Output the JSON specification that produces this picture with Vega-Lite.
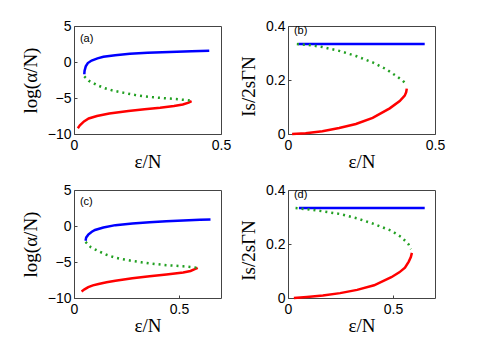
{
  "$schema": "https://vega.github.io/schema/vega-lite/v6.json",
  "padding": {"left": 20, "top": 18, "right": 0, "bottom": 0},
  "background": "white",
  "config": {
    "view": {"stroke": "#444", "strokeWidth": 1},
    "axis": {"grid": false, "domain": false, "ticks": true, "tickSize": -3, "tickColor": "#444",
      "labelFont": "Liberation Sans", "labelFontSize": 14, "labelColor": "#000", "labelOverlap": false, "labelBound": false, "labelFlush": false,
      "titleFont": "Liberation Serif", "titleFontSize": 19, "titleFontWeight": "normal", "titleColor": "#000", "format": "~f"},
    "axisX": {"labelPadding": 7},
    "axisY": {"labelPadding": 6},
    "text": {"font": "Liberation Sans", "fontSize": 11, "color": "#000"}
  },
  "datasets": {
    "curves": [
      {"p":"a","s":"blue","i":0,"x":0.035,"y":-1.7},{"p":"a","s":"blue","i":1,"x":0.036,"y":-1.2},{"p":"a","s":"blue","i":2,"x":0.040,"y":-0.6},{"p":"a","s":"blue","i":3,"x":0.047,"y":-0.15},{"p":"a","s":"blue","i":4,"x":0.06,"y":0.2},{"p":"a","s":"blue","i":5,"x":0.08,"y":0.5},{"p":"a","s":"blue","i":6,"x":0.10,"y":0.72},{"p":"a","s":"blue","i":7,"x":0.14,"y":0.95},{"p":"a","s":"blue","i":8,"x":0.19,"y":1.13},{"p":"a","s":"blue","i":9,"x":0.25,"y":1.27},{"p":"a","s":"blue","i":10,"x":0.30,"y":1.36},{"p":"a","s":"blue","i":11,"x":0.35,"y":1.43},{"p":"a","s":"blue","i":12,"x":0.40,"y":1.49},{"p":"a","s":"blue","i":13,"x":0.46,"y":1.55},
      {"p":"a","s":"green","i":0,"x":0.035,"y":-2.0},{"p":"a","s":"green","i":1,"x":0.05,"y":-2.6},{"p":"a","s":"green","i":2,"x":0.078,"y":-3.2},{"p":"a","s":"green","i":3,"x":0.105,"y":-3.65},{"p":"a","s":"green","i":4,"x":0.131,"y":-3.95},{"p":"a","s":"green","i":5,"x":0.16,"y":-4.2},{"p":"a","s":"green","i":6,"x":0.185,"y":-4.4},{"p":"a","s":"green","i":7,"x":0.21,"y":-4.6},{"p":"a","s":"green","i":8,"x":0.239,"y":-4.77},{"p":"a","s":"green","i":9,"x":0.27,"y":-4.9},{"p":"a","s":"green","i":10,"x":0.30,"y":-5.0},{"p":"a","s":"green","i":11,"x":0.347,"y":-5.15},{"p":"a","s":"green","i":12,"x":0.385,"y":-5.3},{"p":"a","s":"green","i":13,"x":0.40,"y":-5.4},
      {"p":"a","s":"red","i":0,"x":0.013,"y":-9.2},{"p":"a","s":"red","i":1,"x":0.02,"y":-8.8},{"p":"a","s":"red","i":2,"x":0.034,"y":-8.25},{"p":"a","s":"red","i":3,"x":0.05,"y":-7.85},{"p":"a","s":"red","i":4,"x":0.078,"y":-7.5},{"p":"a","s":"red","i":5,"x":0.12,"y":-7.15},{"p":"a","s":"red","i":6,"x":0.185,"y":-6.8},{"p":"a","s":"red","i":7,"x":0.24,"y":-6.55},{"p":"a","s":"red","i":8,"x":0.293,"y":-6.35},{"p":"a","s":"red","i":9,"x":0.34,"y":-6.1},{"p":"a","s":"red","i":10,"x":0.37,"y":-5.9},{"p":"a","s":"red","i":11,"x":0.39,"y":-5.65},{"p":"a","s":"red","i":12,"x":0.40,"y":-5.45},
      {"p":"b","s":"blue","i":0,"x":0.035,"y":0.333},{"p":"b","s":"blue","i":1,"x":0.25,"y":0.333},{"p":"b","s":"blue","i":2,"x":0.465,"y":0.333},
      {"p":"b","s":"green","i":0,"x":0.03,"y":0.333},{"p":"b","s":"green","i":1,"x":0.07,"y":0.33},{"p":"b","s":"green","i":2,"x":0.117,"y":0.322},{"p":"b","s":"green","i":3,"x":0.174,"y":0.308},{"p":"b","s":"green","i":4,"x":0.231,"y":0.289},{"p":"b","s":"green","i":5,"x":0.288,"y":0.265},{"p":"b","s":"green","i":6,"x":0.334,"y":0.24},{"p":"b","s":"green","i":7,"x":0.368,"y":0.215},{"p":"b","s":"green","i":8,"x":0.391,"y":0.197},{"p":"b","s":"green","i":9,"x":0.403,"y":0.183},
      {"p":"b","s":"red","i":0,"x":0.014,"y":0.0},{"p":"b","s":"red","i":1,"x":0.06,"y":0.003},{"p":"b","s":"red","i":2,"x":0.117,"y":0.01},{"p":"b","s":"red","i":3,"x":0.174,"y":0.022},{"p":"b","s":"red","i":4,"x":0.231,"y":0.037},{"p":"b","s":"red","i":5,"x":0.288,"y":0.06},{"p":"b","s":"red","i":6,"x":0.346,"y":0.095},{"p":"b","s":"red","i":7,"x":0.38,"y":0.122},{"p":"b","s":"red","i":8,"x":0.397,"y":0.142},{"p":"b","s":"red","i":9,"x":0.402,"y":0.155},{"p":"b","s":"red","i":10,"x":0.404,"y":0.168},
      {"p":"c","s":"blue","i":0,"x":0.055,"y":-2.05},{"p":"c","s":"blue","i":1,"x":0.058,"y":-1.6},{"p":"c","s":"blue","i":2,"x":0.068,"y":-1.2},{"p":"c","s":"blue","i":3,"x":0.085,"y":-0.8},{"p":"c","s":"blue","i":4,"x":0.10,"y":-0.55},{"p":"c","s":"blue","i":5,"x":0.14,"y":-0.2},{"p":"c","s":"blue","i":6,"x":0.197,"y":0.12},{"p":"c","s":"blue","i":7,"x":0.278,"y":0.36},{"p":"c","s":"blue","i":8,"x":0.36,"y":0.53},{"p":"c","s":"blue","i":9,"x":0.44,"y":0.67},{"p":"c","s":"blue","i":10,"x":0.52,"y":0.77},{"p":"c","s":"blue","i":11,"x":0.60,"y":0.86},{"p":"c","s":"blue","i":12,"x":0.65,"y":0.9},
      {"p":"c","s":"green","i":0,"x":0.055,"y":-2.2},{"p":"c","s":"green","i":1,"x":0.08,"y":-2.95},{"p":"c","s":"green","i":2,"x":0.117,"y":-3.5},{"p":"c","s":"green","i":3,"x":0.155,"y":-4.0},{"p":"c","s":"green","i":4,"x":0.197,"y":-4.4},{"p":"c","s":"green","i":5,"x":0.24,"y":-4.65},{"p":"c","s":"green","i":6,"x":0.278,"y":-4.86},{"p":"c","s":"green","i":7,"x":0.32,"y":-5.03},{"p":"c","s":"green","i":8,"x":0.36,"y":-5.18},{"p":"c","s":"green","i":9,"x":0.40,"y":-5.32},{"p":"c","s":"green","i":10,"x":0.44,"y":-5.45},{"p":"c","s":"green","i":11,"x":0.48,"y":-5.52},{"p":"c","s":"green","i":12,"x":0.52,"y":-5.6},{"p":"c","s":"green","i":13,"x":0.555,"y":-5.7},{"p":"c","s":"green","i":14,"x":0.585,"y":-5.8},
      {"p":"c","s":"red","i":0,"x":0.036,"y":-9.1},{"p":"c","s":"red","i":1,"x":0.05,"y":-8.8},{"p":"c","s":"red","i":2,"x":0.068,"y":-8.5},{"p":"c","s":"red","i":3,"x":0.09,"y":-8.25},{"p":"c","s":"red","i":4,"x":0.117,"y":-8.05},{"p":"c","s":"red","i":5,"x":0.155,"y":-7.8},{"p":"c","s":"red","i":6,"x":0.197,"y":-7.6},{"p":"c","s":"red","i":7,"x":0.278,"y":-7.27},{"p":"c","s":"red","i":8,"x":0.36,"y":-6.98},{"p":"c","s":"red","i":9,"x":0.44,"y":-6.72},{"p":"c","s":"red","i":10,"x":0.52,"y":-6.45},{"p":"c","s":"red","i":11,"x":0.555,"y":-6.25},{"p":"c","s":"red","i":12,"x":0.575,"y":-6.0},{"p":"c","s":"red","i":13,"x":0.589,"y":-5.8},
      {"p":"d","s":"blue","i":0,"x":0.052,"y":0.333},{"p":"d","s":"blue","i":1,"x":0.35,"y":0.333},{"p":"d","s":"blue","i":2,"x":0.651,"y":0.333},
      {"p":"d","s":"green","i":0,"x":0.036,"y":0.333},{"p":"d","s":"green","i":1,"x":0.10,"y":0.328},{"p":"d","s":"green","i":2,"x":0.166,"y":0.321},{"p":"d","s":"green","i":3,"x":0.248,"y":0.311},{"p":"d","s":"green","i":4,"x":0.329,"y":0.295},{"p":"d","s":"green","i":5,"x":0.41,"y":0.274},{"p":"d","s":"green","i":6,"x":0.492,"y":0.249},{"p":"d","s":"green","i":7,"x":0.541,"y":0.225},{"p":"d","s":"green","i":8,"x":0.573,"y":0.2},{"p":"d","s":"green","i":9,"x":0.586,"y":0.181},
      {"p":"d","s":"red","i":0,"x":0.028,"y":0.0},{"p":"d","s":"red","i":1,"x":0.09,"y":0.004},{"p":"d","s":"red","i":2,"x":0.166,"y":0.009},{"p":"d","s":"red","i":3,"x":0.248,"y":0.018},{"p":"d","s":"red","i":4,"x":0.329,"y":0.03},{"p":"d","s":"red","i":5,"x":0.41,"y":0.047},{"p":"d","s":"red","i":6,"x":0.492,"y":0.077},{"p":"d","s":"red","i":7,"x":0.53,"y":0.095},{"p":"d","s":"red","i":8,"x":0.557,"y":0.112},{"p":"d","s":"red","i":9,"x":0.575,"y":0.135},{"p":"d","s":"red","i":10,"x":0.585,"y":0.152},{"p":"d","s":"red","i":11,"x":0.59,"y":0.167}
    ]
  },
  "columns": 2,
  "spacing": {"column": 67, "row": 56},
  "bounds": "flush",
  "concat": [
    {
      "width": 147, "height": 108,
      "layer": [
        {"data": {"name": "curves"}, "transform": [{"filter": "datum.p=='a' && datum.s!='green'"}],
         "mark": {"type": "line", "strokeWidth": 2.5},
         "encoding": {
           "x": {"field": "x", "type": "quantitative", "scale": {"domain": [0, 0.5], "nice": false, "zero": false}, "axis": {"values": [0, 0.5], "title": "ε/N", "titleY": 27, "titleBaseline": "middle"}},
           "y": {"field": "y", "type": "quantitative", "scale": {"domain": [-10, 5], "nice": false, "zero": false}, "axis": {"tickCount": 4, "title": "log(α/N)", "titleX": -44, "titleY": 54, "titleBaseline": "middle"}},
           "color": {"field": "s", "type": "nominal", "scale": {"domain": ["blue", "red"], "range": ["#0000ff", "#ff0000"]}, "legend": null},
           "order": {"field": "i", "type": "quantitative"}}},
        {"data": {"name": "curves"}, "transform": [{"filter": "datum.p=='a' && datum.s=='green'"}],
         "mark": {"type": "line", "strokeWidth": 2.5, "strokeDash": [2, 4], "color": "#22a022"},
         "encoding": {"x": {"field": "x", "type": "quantitative"}, "y": {"field": "y", "type": "quantitative"}, "order": {"field": "i", "type": "quantitative"}}},
        {"data": {"values": [{"t": "(a)"}]}, "mark": {"type": "text", "align": "left", "baseline": "middle"},
         "encoding": {"x": {"datum": 0.02}, "y": {"datum": 3.2}, "text": {"field": "t"}}}
      ]
    },
    {
      "width": 147, "height": 108,
      "layer": [
        {"data": {"name": "curves"}, "transform": [{"filter": "datum.p=='b' && datum.s!='green'"}],
         "mark": {"type": "line", "strokeWidth": 2.5},
         "encoding": {
           "x": {"field": "x", "type": "quantitative", "scale": {"domain": [0, 0.5], "nice": false, "zero": false}, "axis": {"values": [0, 0.5], "title": "ε/N", "titleY": 27, "titleBaseline": "middle"}},
           "y": {"field": "y", "type": "quantitative", "scale": {"domain": [0, 0.4], "nice": false, "zero": false}, "axis": {"values": [0, 0.2, 0.4], "title": "Is/2sΓN", "titleX": -40, "titleY": 60, "titleBaseline": "middle"}},
           "color": {"field": "s", "type": "nominal", "scale": {"domain": ["blue", "red"], "range": ["#0000ff", "#ff0000"]}, "legend": null},
           "order": {"field": "i", "type": "quantitative"}}},
        {"data": {"name": "curves"}, "transform": [{"filter": "datum.p=='b' && datum.s=='green'"}],
         "mark": {"type": "line", "strokeWidth": 2.5, "strokeDash": [2, 4], "color": "#22a022"},
         "encoding": {"x": {"field": "x", "type": "quantitative"}, "y": {"field": "y", "type": "quantitative"}, "order": {"field": "i", "type": "quantitative"}}},
        {"data": {"values": [{"t": "(b)"}]}, "mark": {"type": "text", "align": "left", "baseline": "middle"},
         "encoding": {"x": {"datum": 0.02}, "y": {"datum": 0.38}, "text": {"field": "t"}}}
      ]
    },
    {
      "width": 147, "height": 108,
      "layer": [
        {"data": {"name": "curves"}, "transform": [{"filter": "datum.p=='c' && datum.s!='green'"}],
         "mark": {"type": "line", "strokeWidth": 2.5},
         "encoding": {
           "x": {"field": "x", "type": "quantitative", "scale": {"domain": [0, 0.7], "nice": false, "zero": false}, "axis": {"values": [0, 0.5], "title": "ε/N", "titleY": 27, "titleBaseline": "middle"}},
           "y": {"field": "y", "type": "quantitative", "scale": {"domain": [-10, 5], "nice": false, "zero": false}, "axis": {"tickCount": 4, "title": "log(α/N)", "titleX": -44, "titleY": 54, "titleBaseline": "middle"}},
           "color": {"field": "s", "type": "nominal", "scale": {"domain": ["blue", "red"], "range": ["#0000ff", "#ff0000"]}, "legend": null},
           "order": {"field": "i", "type": "quantitative"}}},
        {"data": {"name": "curves"}, "transform": [{"filter": "datum.p=='c' && datum.s=='green'"}],
         "mark": {"type": "line", "strokeWidth": 2.5, "strokeDash": [2, 4], "color": "#22a022"},
         "encoding": {"x": {"field": "x", "type": "quantitative"}, "y": {"field": "y", "type": "quantitative"}, "order": {"field": "i", "type": "quantitative"}}},
        {"data": {"values": [{"t": "(c)"}]}, "mark": {"type": "text", "align": "left", "baseline": "middle"},
         "encoding": {"x": {"datum": 0.028}, "y": {"datum": 3.4}, "text": {"field": "t"}}}
      ]
    },
    {
      "width": 147, "height": 108,
      "layer": [
        {"data": {"name": "curves"}, "transform": [{"filter": "datum.p=='d' && datum.s!='green'"}],
         "mark": {"type": "line", "strokeWidth": 2.5},
         "encoding": {
           "x": {"field": "x", "type": "quantitative", "scale": {"domain": [0, 0.7], "nice": false, "zero": false}, "axis": {"values": [0, 0.5], "title": "ε/N", "titleY": 27, "titleBaseline": "middle"}},
           "y": {"field": "y", "type": "quantitative", "scale": {"domain": [0, 0.4], "nice": false, "zero": false}, "axis": {"values": [0, 0.2, 0.4], "title": "Is/2sΓN", "titleX": -40, "titleY": 60, "titleBaseline": "middle"}},
           "color": {"field": "s", "type": "nominal", "scale": {"domain": ["blue", "red"], "range": ["#0000ff", "#ff0000"]}, "legend": null},
           "order": {"field": "i", "type": "quantitative"}}},
        {"data": {"name": "curves"}, "transform": [{"filter": "datum.p=='d' && datum.s=='green'"}],
         "mark": {"type": "line", "strokeWidth": 2.5, "strokeDash": [2, 4], "color": "#22a022"},
         "encoding": {"x": {"field": "x", "type": "quantitative"}, "y": {"field": "y", "type": "quantitative"}, "order": {"field": "i", "type": "quantitative"}}},
        {"data": {"values": [{"t": "(d)"}]}, "mark": {"type": "text", "align": "left", "baseline": "middle"},
         "encoding": {"x": {"datum": 0.028}, "y": {"datum": 0.38}, "text": {"field": "t"}}}
      ]
    }
  ]
}
